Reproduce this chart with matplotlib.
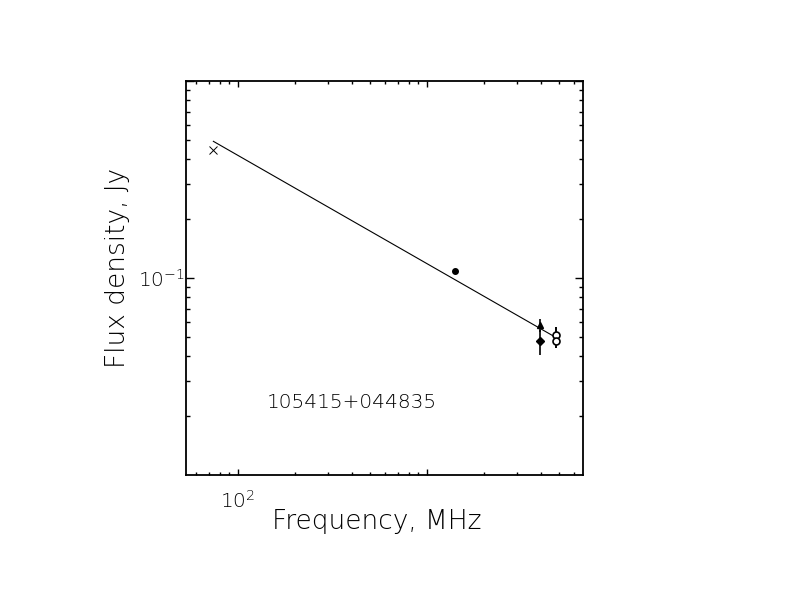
import matplotlib
matplotlib.use("Agg")
import matplotlib.pyplot as plt
from matplotlib.ticker import LogLocator, NullFormatter, FixedLocator, FixedFormatter

plt.rcParams['font.family'] = ['DejaVu Sans']
plt.rcParams['font.weight'] = 'light'
plt.rcParams['mathtext.default'] = 'regular'

# Data
vlss_freq = [74]
vlss_flux = [0.445]

nvss_freq = [1406]
nvss_flux = [0.109]

tri_freq = [3950]
tri_flux = [0.0575]
tri_err_lo = [0.0045]
tri_err_hi = [0.0043]

star_freq = [3950]
star_flux = [0.0477]
star_err_lo = [0.0072]
star_err_hi = [0.0066]

circ_freq = [4850, 4850]
circ_flux = [0.0512, 0.0477]
circ_err_lo = [0.0073, 0.0038]
circ_err_hi = [0.0050, 0.0085]

fit_freq = [74, 4850]
fit_flux = [0.494, 0.0497]

source_name = "105415+044835"
x_label = "Frequency, MHz"
y_label = "Flux density, Jy"

fig = plt.figure(figsize=(7.92, 6.12), dpi=100)
ax = fig.add_axes([186/792, 1-475/612, (583-186)/792, (475-81)/612])
ax.set_xscale('log')
ax.set_yscale('log')
ax.set_xlim(53, 6700)
ax.set_ylim(0.01, 1.0)

ax.plot(fit_freq, fit_flux, color='black', lw=0.8)
ax.plot(vlss_freq, vlss_flux, 'x', color='black', ms=6, mew=0.7)
ax.plot(nvss_freq, nvss_flux, 'o', color='black', ms=4, mfc='black')
ax.errorbar(tri_freq, tri_flux, yerr=[tri_err_lo, tri_err_hi], fmt='^', color='black',
            ms=5, elinewidth=1.2, capsize=0)
ax.errorbar(star_freq, star_flux, yerr=[star_err_lo, star_err_hi], fmt='D', color='black',
            ms=4, elinewidth=1.2, capsize=0)
ax.errorbar(circ_freq, circ_flux, yerr=[circ_err_lo, circ_err_hi], fmt='o', color='black',
            mfc='white', ms=5, mew=1.2, elinewidth=1.2, capsize=0)

for s in ax.spines.values():
    s.set_linewidth(1.3)

ax.xaxis.set_major_locator(FixedLocator([100, 1000]))
ax.xaxis.set_major_formatter(FixedFormatter(['$10^{2}$', '']))
ax.xaxis.set_minor_locator(LogLocator(base=10, subs=range(2, 10)))
ax.xaxis.set_minor_formatter(NullFormatter())
ax.yaxis.set_major_locator(FixedLocator([0.1, 1.0]))
ax.yaxis.set_major_formatter(FixedFormatter(['$10^{-1}$', '']))
ax.yaxis.set_minor_locator(LogLocator(base=10, subs=range(2, 10)))
ax.yaxis.set_minor_formatter(NullFormatter())

ax.tick_params(which='both', direction='in', top=True, right=True, width=1.0, colors='black')
ax.tick_params(axis='x', which='major', length=4, pad=11, labelsize=14.5)
ax.tick_params(axis='x', which='minor', length=2.5)
ax.tick_params(axis='y', which='major', length=6, pad=0.5, labelsize=14.5)
ax.tick_params(axis='y', which='minor', length=3)

ax.text(0.204, 0.183, source_name, transform=ax.transAxes, ha='left', va='center',
        fontsize=14.5)
fig.text(377/792, 1-522/612, x_label, ha='center', va='center', fontsize=19)
fig.text(118/792, 1-268/612, y_label, ha='center', va='center', rotation=90,
         fontsize=19)

fig.savefig('out.png', dpi=100)
